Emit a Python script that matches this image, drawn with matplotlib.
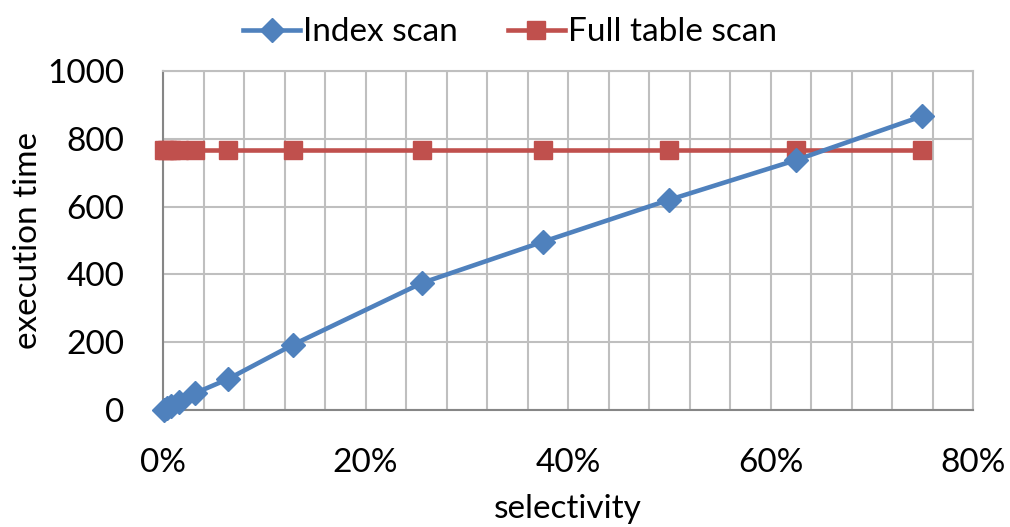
import matplotlib
matplotlib.use("Agg")
import matplotlib.pyplot as plt
from matplotlib.ticker import MultipleLocator, FuncFormatter

# Selectivity (fraction of rows) and measured execution times
selectivity = [0.001, 0.004, 0.008, 0.016, 0.032, 0.064, 0.128, 0.256, 0.375, 0.50, 0.625, 0.75]
index_scan = [0, 5, 12, 24, 50, 91, 192, 375, 496, 620, 737, 867]
full_table_scan = [767, 767, 767, 767, 767, 767, 767, 767, 767, 767, 767, 767]

series_names = ["Index scan", "Full table scan"]
x_ticks = [0.0, 0.2, 0.4, 0.6, 0.8]
y_ticks = [0, 200, 400, 600, 800, 1000]

plt.rcParams["font.family"] = ["Lato", "DejaVu Sans"]

fig = plt.figure(figsize=(10.10, 5.27), dpi=100)
ax = fig.add_axes([163 / 1010, 1 - 410 / 527, (973 - 163) / 1010, (410 - 71) / 527])

blue = "#4F81BD"
red = "#C0504D"
ax.plot(selectivity, index_scan, color=blue, lw=3.3, marker="D", ms=12,
        label=series_names[0], zorder=4, clip_on=False)
ax.plot(selectivity, full_table_scan, color=red, lw=3.3, marker="s", ms=12.5,
        label=series_names[1], zorder=3, clip_on=False)

ax.set_xlim(0, 0.8)
ax.set_ylim(0, 1000)
ax.set_xticks(x_ticks)
ax.xaxis.set_minor_locator(MultipleLocator(0.04))
ax.set_yticks(y_ticks)
ax.xaxis.set_major_formatter(FuncFormatter(lambda v, p: f"{v*100:.0f}%"))

ax.grid(True, which="both", axis="x", color="#BFBFBF", lw=1.5)
ax.grid(True, which="major", axis="y", color="#BFBFBF", lw=1.5)
ax.set_axisbelow(True)
for s in ax.spines.values():
    s.set_color("#BFBFBF")
    s.set_linewidth(1.5)
ax.spines["left"].set_color("#868686")
ax.spines["bottom"].set_color("#868686")

ax.tick_params(axis="both", which="both", length=0, labelsize=24, colors="black")
ax.tick_params(axis="x", pad=27)
ax.tick_params(axis="y", pad=28)

ax.set_xlabel("selectivity", fontsize=24, labelpad=12)
ax.set_ylabel("execution time", fontsize=24, labelpad=3)

fig.legend(loc="upper center", bbox_to_anchor=(0.505, 1.005), ncol=2, frameon=False,
           fontsize=24, handlelength=1.7, handletextpad=0.1, columnspacing=1.5,
           borderaxespad=0.2)

fig.savefig("out.png", dpi=100, facecolor="white")
